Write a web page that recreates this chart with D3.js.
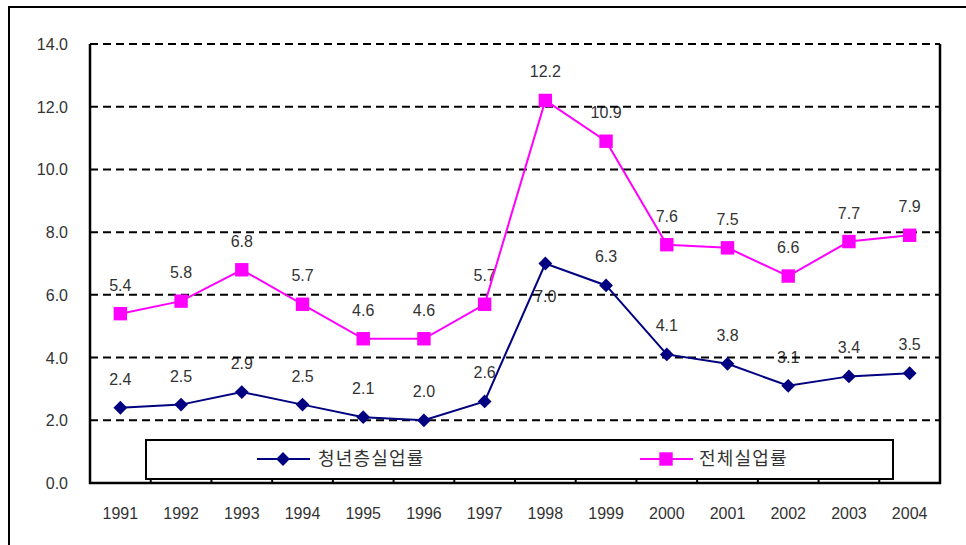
<!DOCTYPE html>
<html>
<head>
<meta charset="utf-8">
<script src="https://cdn.jsdelivr.net/npm/d3@7"></script>
<style>
  body { margin: 0; background: #fff; }
  text { font-family: "Liberation Sans", Arial, "Noto Sans CJK KR", sans-serif; fill: #333; }
</style>
</head>
<body>
<svg id="chart" width="966" height="545"></svg>
<script>
var years = ["1991","1992","1993","1994","1995","1996","1997","1998","1999","2000","2001","2002","2003","2004"];
var youthRate = [2.4, 2.5, 2.9, 2.5, 2.1, 2.0, 2.6, 7.0, 6.3, 4.1, 3.8, 3.1, 3.4, 3.5];
var totalRate = [5.4, 5.8, 6.8, 5.7, 4.6, 4.6, 5.7, 12.2, 10.9, 7.6, 7.5, 6.6, 7.7, 7.9];
var yTicks = [0, 2, 4, 6, 8, 10, 12, 14];
var seriesNames = ["청년층실업률", "전체실업률"];

var svg = d3.select("#chart"),
    margin = {top: 44, left: 90, bottom: 62, right: 26},
    width = 966 - margin.left - margin.right,
    height = 545 - margin.top - margin.bottom;

// outer chart border (clipped at right/bottom like the original)
svg.append("rect")
  .attr("x", 9).attr("y", 7)
  .attr("width", 1000).attr("height", 600)
  .attr("fill", "none").attr("stroke", "#000").attr("stroke-width", 2);

var x = d3.scaleBand().domain(years).range([0, width]);
var y = d3.scaleLinear().domain([0, 14]).range([height, 0]);

var g = svg.append("g").attr("transform", "translate(" + margin.left + "," + margin.top + ")");

// y labels
g.selectAll(".ylab").data(yTicks).enter().append("text")
  .attr("x", -22).attr("y", d => y(d) + 6)
  .attr("text-anchor", "end").style("font-size", "16px")
  .text(d => d.toFixed(1));

// x labels
g.selectAll(".xlab").data(years).enter().append("text")
  .attr("x", d => x(d) + x.bandwidth() / 2).attr("y", height + 36)
  .attr("text-anchor", "middle").style("font-size", "16px")
  .text(d => d);

var series = [
  {name: seriesNames[0], values: youthRate, color: "#000080", shape: d3.symbolSquare, size: 95, rot: 45},
  {name: seriesNames[1], values: totalRate, color: "#ff00ff", shape: d3.symbolSquare, size: 180, rot: 0}
];

// data labels (under the grid, as in the original)
series.forEach(function(s, si) {
  g.selectAll(".lab" + si).data(s.values).enter().append("text")
    .attr("x", (d, i) => x(years[i]) + x.bandwidth() / 2)
    .attr("y", function(d, i) {
      // the 1998 youth label sits below its point
      if (si === 0 && years[i] === "1998") return y(d) + 38;
      return y(d) - 23;
    })
    .attr("text-anchor", "middle").style("font-size", "16px")
    .text(d => d.toFixed(1));
});

// dashed grid
g.selectAll(".grid").data(yTicks.filter(d => d > 0)).enter().append("line")
  .attr("x1", 0).attr("x2", width)
  .attr("y1", d => y(d)).attr("y2", d => y(d))
  .attr("stroke", "#000").attr("stroke-width", 2)
  .attr("stroke-dasharray", "8,5");

// axis frame: left, bottom, right solid
g.append("path")
  .attr("d", "M" + width + ",0V" + height + "H0V0")
  .attr("fill", "none").attr("stroke", "#000").attr("stroke-width", 2.5);

// legend box
var lg = g.append("g");
lg.append("rect")
  .attr("x", 56).attr("y", 396).attr("width", 747).attr("height", 39)
  .attr("fill", "#fff").attr("stroke", "#000").attr("stroke-width", 2);

// x tick marks between categories
g.selectAll(".xtick").data(years.slice(1)).enter().append("line")
  .attr("x1", d => x(d)).attr("x2", d => x(d))
  .attr("y1", height).attr("y2", height - 4)
  .attr("stroke", "#000").attr("stroke-width", 2);

// series lines + markers
var line = d3.line()
  .x((d, i) => x(years[i]) + x.bandwidth() / 2)
  .y(d => y(d));

series.forEach(function(s, si) {
  g.append("path").datum(s.values)
    .attr("d", line)
    .attr("fill", "none").attr("stroke", s.color).attr("stroke-width", 2);
  g.selectAll(".pt" + si).data(s.values).enter().append("path")
    .attr("d", d3.symbol().type(s.shape).size(s.size))
    .attr("transform", (d, i) => "translate(" + (x(years[i]) + x.bandwidth() / 2) + "," + y(d) + ") rotate(" + s.rot + ")")
    .attr("fill", s.color);
});

// legend items
var legendPos = [{x0: 167, text: 228}, {x0: 550, text: 609}];
series.forEach(function(s, si) {
  var p = legendPos[si], ly = 415;
  lg.append("line")
    .attr("x1", p.x0).attr("x2", p.x0 + 53).attr("y1", ly).attr("y2", ly)
    .attr("stroke", s.color).attr("stroke-width", 2);
  lg.append("path")
    .attr("d", d3.symbol().type(s.shape).size(s.size))
    .attr("transform", "translate(" + (p.x0 + 26) + "," + ly + ") rotate(" + s.rot + ")")
    .attr("fill", s.color);
  lg.append("text")
    .attr("x", p.text).attr("y", ly + 6)
    .style("font-size", "18px")
    .style("letter-spacing", "1.2px")
    .style("font-family", "'Noto Sans CJK KR', sans-serif")
    .text(s.name);
});
</script>
</body>
</html>
